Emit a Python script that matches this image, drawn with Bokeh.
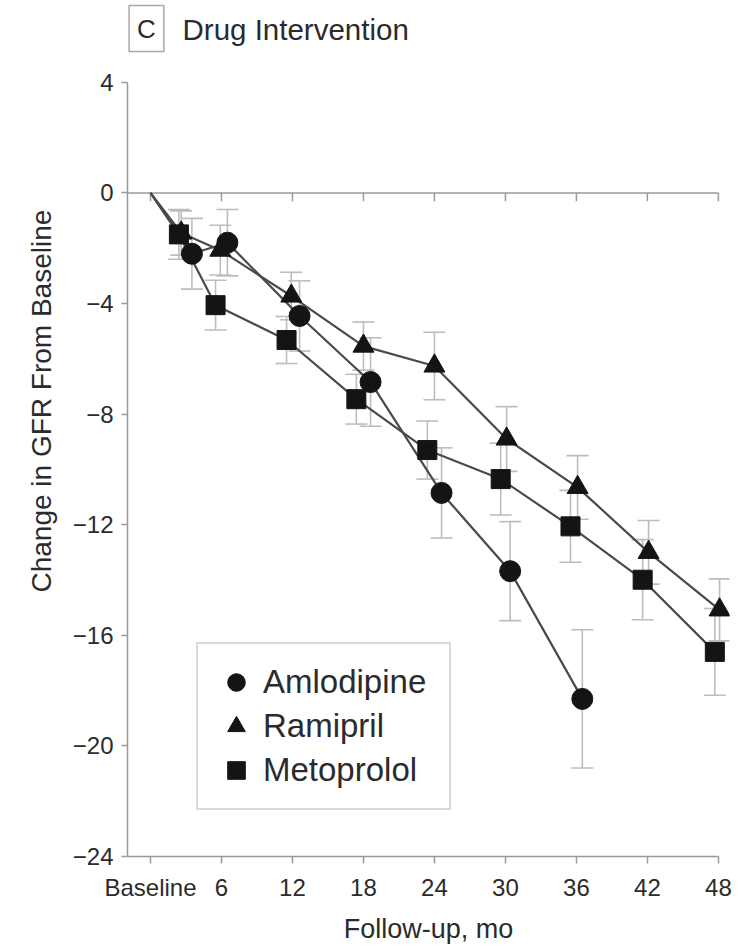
from bokeh.plotting import figure
from bokeh.models import (ColumnDataSource, Whisker, TeeHead, Legend, LegendItem,
                          FixedTicker, Label, Range1d, Title)
from bokeh.embed import file_html
from bokeh.resources import INLINE

FONT = "Liberation Sans"

# ---- data ----
x_ticks = [0, 6, 12, 18, 24, 30, 36, 42, 48]
x_tick_labels = ["Baseline", "6", "12", "18", "24", "30", "36", "42", "48"]
y_ticks = [4, 0, -4, -8, -12, -16, -20, -24]
y_tick_labels = ["4", "0", "\u22124", "\u22128", "\u221212", "\u221216", "\u221220", "\u221224"]

baseline_month = 0
baseline_change = 0

aml_month = [3.5, 6.5, 12.6, 18.6, 24.6, 30.4, 36.5]
aml_change = [-2.2, -1.8, -4.45, -6.84, -10.85, -13.68, -18.3]
aml_se = [1.28, 1.2, 1.27, 1.6, 1.63, 1.79, 2.5]

ram_month = [2.6, 5.9, 11.9, 18.0, 24.0, 30.1, 36.1, 42.1, 48.1]
ram_change = [-1.45, -2.07, -3.73, -5.54, -6.26, -8.9, -10.65, -13.0, -15.08]
ram_se = [0.8, 0.9, 0.86, 0.87, 1.22, 1.17, 1.15, 1.15, 1.12]

met_month = [2.4, 5.5, 11.5, 17.4, 23.4, 29.6, 35.5, 41.6, 47.7]
met_change = [-1.5, -4.06, -5.32, -7.46, -9.3, -10.35, -12.06, -13.99, -16.6]
met_se = [0.9, 0.9, 0.85, 0.9, 1.05, 1.3, 1.3, 1.45, 1.57]

Y_AXIS_LO, Y_AXIS_HI = -24, 4
X_LO, X_HI = -1.944, 48.94
Y_LO, Y_HI = -24, 6.959   # range extends above the axis to hold the panel heading

LINE_COL = "#4a4a4a"
MARK_COL = "#141414"
ERR_COL = "#bdbdbd"
AXIS_COL = "#9a9a9a"
TEXT_COL = "#2b2b2b"

p = figure(width=737, height=946, output_backend="svg", toolbar_location=None,
           x_range=Range1d(X_LO, X_HI), y_range=Range1d(Y_LO, Y_HI),
           min_border_left=127, min_border_right=8, min_border_top=0, min_border_bottom=88)
p.outline_line_color = None
p.xgrid.visible = False
p.ygrid.visible = False
p.background_fill_color = "white"

# axes
p.xaxis.ticker = FixedTicker(ticks=x_ticks)
p.xaxis.major_label_overrides = {t: l for t, l in zip(x_ticks, x_tick_labels)}
p.xaxis.bounds = (X_LO, x_ticks[-1])
p.yaxis.ticker = FixedTicker(ticks=y_ticks)
p.yaxis.major_label_overrides = {t: l for t, l in zip(y_ticks, y_tick_labels)}
p.yaxis.bounds = (Y_AXIS_LO, Y_AXIS_HI)
for ax in (p.xaxis, p.yaxis):
    ax.axis_line_color = AXIS_COL
    ax.axis_line_width = 1.5
    ax.major_tick_line_color = AXIS_COL
    ax.major_tick_line_width = 1.5
    ax.major_tick_in = 0
    ax.minor_tick_line_color = None
    ax.major_label_text_font = FONT
    ax.major_label_text_font_size = "24px"
    ax.major_label_text_color = TEXT_COL
    ax.axis_label_text_font = FONT
    ax.axis_label_text_font_style = "normal"
    ax.axis_label_text_color = TEXT_COL
p.xaxis.major_tick_out = 7
p.yaxis.major_tick_out = 6
p.xaxis.major_label_standoff = 10
p.yaxis.major_label_standoff = 8
p.xaxis.axis_label = "Follow-up, mo"
p.xaxis.axis_label_text_font_size = "27px"
p.xaxis.axis_label_standoff = 10

# y-axis title placed in the left panel so it can sit where the original has it
p.add_layout(Title(text="Change in GFR From Baseline", align="left", offset=264,
                   text_font=FONT, text_font_size="28px", text_font_style="normal",
                   text_color=TEXT_COL, standoff=26), "left")

# zero reference line with hanging ticks
p.segment(x0=[X_LO], y0=[0], x1=[x_ticks[-1]], y1=[0], line_color=AXIS_COL, line_width=1.5)
p.segment(x0=x_ticks, y0=[0] * len(x_ticks), x1=x_ticks, y1=[-0.3] * len(x_ticks),
          line_color=AXIS_COL, line_width=1.5)

series = [
    ("Ramipril", ram_month, ram_change, ram_se, "triangle", 21),
    ("Metoprolol", met_month, met_change, met_se, "square", 19),
    ("Amlodipine", aml_month, aml_change, aml_se, "circle", 21),
]

legend_renderers = {}
for name, m, c, se, marker, size in series:
    src = ColumnDataSource(dict(x=m, y=c,
                                upper=[v + e for v, e in zip(c, se)],
                                lower=[v - e for v, e in zip(c, se)]))
    w = Whisker(source=src, base="x", upper="upper", lower="lower", dimension="height",
                line_color=ERR_COL, line_width=1.6, level="underlay",
                upper_head=TeeHead(size=22, line_color=ERR_COL, line_width=1.6),
                lower_head=TeeHead(size=22, line_color=ERR_COL, line_width=1.6))
    p.add_layout(w)
    p.line(x=[baseline_month] + m, y=[baseline_change] + c, line_color=LINE_COL, line_width=2.2)

for name, m, c, se, marker, size in series:
    r = p.scatter(x=m, y=c, marker=marker, size=size, fill_color=MARK_COL, line_color=MARK_COL)
    legend_renderers[name] = r

legend = Legend(items=[LegendItem(label=n, renderers=[legend_renderers[n]])
                       for n in ["Amlodipine", "Ramipril", "Metoprolol"]],
                location=(69, 46), orientation="vertical",
                border_line_color="#b5b5b5", border_line_width=2,
                padding=16, spacing=0, margin=0,
                glyph_width=44, glyph_height=44, label_height=44,
                label_standoff=5, label_width=170,
                label_text_font=FONT, label_text_font_size="33px",
                label_text_color=TEXT_COL, background_fill_color="white")
p.add_layout(legend)

# panel heading
p.add_layout(Label(x=19, y=828, x_units="screen", y_units="screen", text="C",
                   text_align="center", text_baseline="middle",
                   text_font=FONT, text_font_size="26px", text_color=TEXT_COL,
                   border_line_color="#a8a8a8", border_line_width=1.5, padding=8,
                   background_fill_color="white"))
p.add_layout(Label(x=55, y=827, x_units="screen", y_units="screen", text="Drug Intervention",
                   text_align="left", text_baseline="middle",
                   text_font=FONT, text_font_size="29.5px", text_color=TEXT_COL))

open("out.html", "w").write(file_html(p, INLINE))
